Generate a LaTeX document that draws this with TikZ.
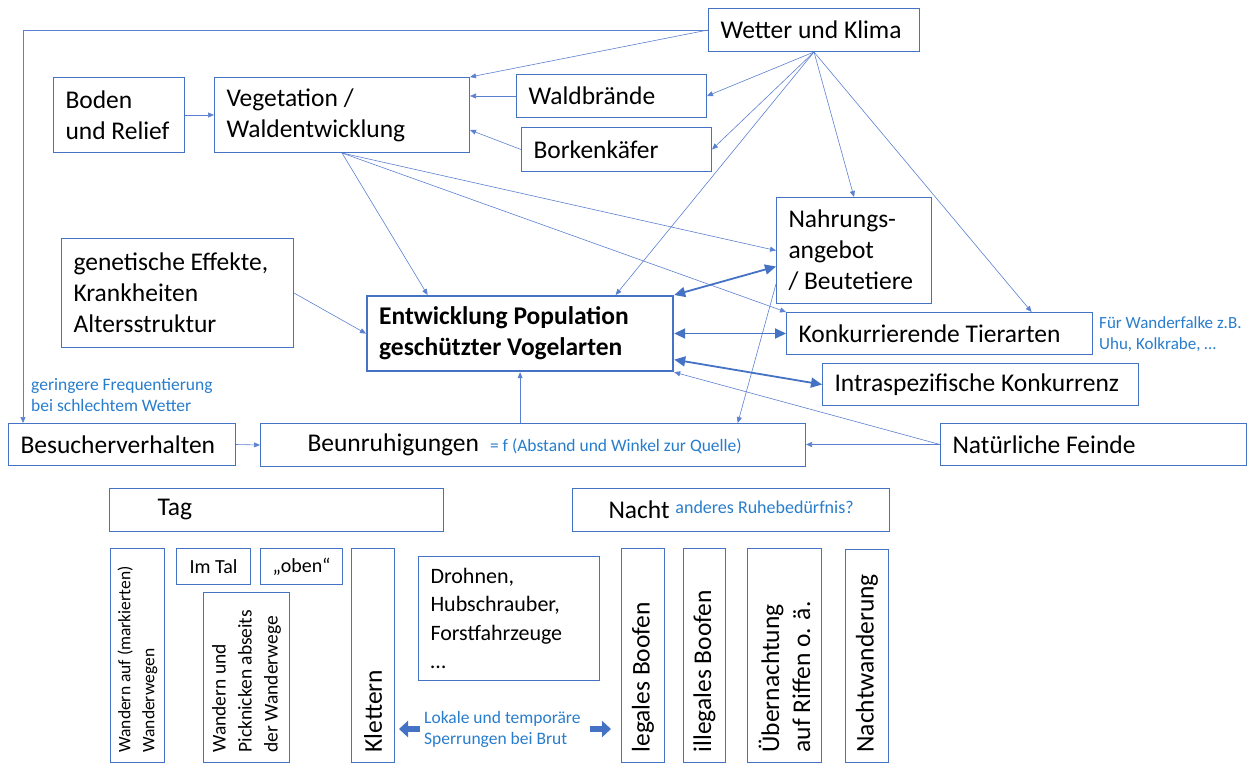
\documentclass[tikz,border=0pt]{standalone}
\usepackage{fontspec}
\setmainfont{Carlito}
\usetikzlibrary{arrows.meta, positioning, calc}

\definecolor{boxblue}{RGB}{68,114,196}
\definecolor{lineblue}{RGB}{92,128,208}
\definecolor{noteblue}{RGB}{40,125,205}

\newcommand{\mainsize}{\fontsize{25.5}{31}\selectfont}
\newcommand{\notesize}{\fontsize{17.5}{21}\selectfont}

\begin{document}
\begin{tikzpicture}[x=1pt, y=-1pt,
    box/.style 2 args={draw=boxblue, line width=1pt, fill=white,
                       anchor=north west, inner xsep=12pt, inner ysep=0pt,
                       minimum width=#1pt, minimum height=#2pt,
                       text width=#1pt-24pt, align=flush left, font=\mainsize},
    tbox/.style 2 args={draw=boxblue, line width=1pt, fill=white,
                        anchor=north west, inner sep=0pt,
                        minimum width=#1pt, minimum height=#2pt,
                        align=center, font=\fontsize{20}{24}\selectfont},
    vbox/.style 2 args={draw=boxblue, line width=1pt, fill=white,
                        anchor=north east, rotate=90, inner xsep=10pt, inner ysep=0pt,
                        minimum width=#1pt, minimum height=#2pt,
                        text width=#1pt-20pt, align=flush left, font=\mainsize},
    note/.style={text=noteblue, font=\notesize, align=left, inner sep=0pt, anchor=west},
    link/.style={draw=lineblue, line width=0.6pt, -{Triangle[length=6pt, width=5pt]}},
    both/.style={draw=boxblue, line width=1.8pt,
                 {Triangle[length=11pt, width=10pt]}-{Triangle[length=11pt, width=10pt]}},
    fat/.style={draw=boxblue, line width=6.5pt, -{Triangle[length=9pt, width=16pt]}}]
  \useasboundingbox (0,0) rectangle (1255,763);

  % upper part
  \node[box={211}{43}] (wetter) at (708,8) {Wetter und Klima};
  \node[box={131}{75}] (boden) at (53,77) {Boden\\und Relief};
  \node[box={255}{75}] (vegetation) at (214,77) {Vegetation /\\Waldentwicklung};
  \node[box={190}{43}] (waldbraende) at (516,74) {Waldbrände};
  \node[box={190}{44}] (borken) at (521,127) {Borkenkäfer};
  \node[box={155}{106}] (nahrung) at (776,197) {Nahrungs-\\angebot\\/ Beutetiere};
  \node[box={232}{109}] (genetik) at (61,238) {genetische Effekte,\\Krankheiten\\Altersstruktur};
  \node[box={306}{75}, line width=2.2pt, font=\mainsize\bfseries] (population) at (366,295)
       {Entwicklung Population\\geschützter Vogelarten};
  \node[box={306}{42}] (konkurrenz) at (786,312) {Konkurrierende Tierarten};
  \node[box={316}{42}] (intra) at (822,363) {Intraspezifische Konkurrenz};
  \node[box={227}{42}] (besucher) at (8,423) {Besucherverhalten};
  \node[box={545}{43}] (beunruhigung) at (260,423)
       {\hspace*{35pt}Beunruhigungen\hspace{11pt}{\color{noteblue}\notesize = f (Abstand und Winkel zur Quelle)}};
  \node[box={306}{42}] (feinde) at (940,423) {Natürliche Feinde};

  \node[note] (frequenz) at (31,395) {geringere Frequentierung\\bei schlechtem Wetter};
  \node[note, font=\fontsize{17}{21}\selectfont] (falke) at (1099,334) {Für Wanderfalke z.B.\\Uhu, Kolkrabe, …};

  % Tag / Nacht
  \node[box={334}{43}] (tag) at (109,488) {\hspace*{36pt}Tag};
  \node[box={317}{43}] (nacht) at (572,488)
       {\hspace*{24pt}Nacht \raisebox{5pt}{\color{noteblue}\fontsize{18}{21}\selectfont anderes Ruhebedürfnis?}};

  \node[vbox={214}{54}, font=\fontsize{17.5}{24}\selectfont] (markiert) at (110,548)
       {Wandern auf (markierten)\\Wanderwegen};
  \node[tbox={74}{36}] (tal) at (176,548) {Im Tal};
  \node[tbox={82}{36}] (oben) at (260,548) {„oben“};
  \node[vbox={170}{86}, font=\fontsize{19.5}{26}\selectfont] (abseits) at (203,592)
       {Wandern und\\Picknicken abseits\\der Wanderwege};
  \node[vbox={214}{43}] (klettern) at (351,548) {Klettern};
  \node[box={181}{124}, font=\fontsize{22}{28.5}\selectfont] (drohnen) at (418,556)
       {Drohnen,\\Hubschrauber,\\Forstfahrzeuge\\…};
  \node[vbox={214}{43}] (legal) at (621,548) {legales Boofen};
  \node[vbox={214}{42}] (illegal) at (683,548) {illegales Boofen};
  \node[vbox={214}{74}] (riffe) at (747,548) {Übernachtung\\auf Riffen o. ä.};
  \node[vbox={213}{43}] (nachtwanderung) at (845,549) {Nachtwanderung};
  \node[note] (sperrung) at (424,729) {Lokale und temporäre\\Sperrungen bei Brut};

  % connectors
  \draw[link] (wetter.west) -| ([xshift=15pt]besucher.north west);
  \draw[link] (wetter.west) -- (vegetation.north east);
  \draw[link] (boden.east) -- (vegetation.west);
  \draw[link] (waldbraende.west) -- (waldbraende.west -| vegetation.east);
  \draw[link] (borken.west) -- ([yshift=-15pt]vegetation.east);
  \foreach \target in {waldbraende.east, borken.east, nahrung.north}
    \draw[link] (wetter.south) -- (\target);
  \draw[link] (wetter.south) -- ($(konkurrenz.north west)!0.8!(konkurrenz.north east)$);
  \draw[link] (wetter.south) -- ($(population.north west)!0.81!(population.north east)$);
  \draw[link] (vegetation.south) -- ($(population.north west)!0.2!(population.north east)$);
  \draw[link] (vegetation.south) -- (nahrung.west);
  \draw[link] (vegetation.south) -- (konkurrenz.north west);
  \draw[link] (genetik.east) -- (population.west);
  \draw[link] ([yshift=20pt]nahrung.south west) -- ($(beunruhigung.north west)!0.875!(beunruhigung.north east)$);
  \draw[link] (besucher.east) -- (beunruhigung.west);
  \draw[link] (beunruhigung.north -| population.south) -- (population.south);
  \draw[link] (feinde.west) -- (feinde.west -| beunruhigung.east);
  \draw[link] (feinde.west) -- (population.south east);

  \draw[both] (population.north east) -- ([yshift=-16pt]nahrung.west);
  \draw[both] (population.east |- konkurrenz.west) -- (konkurrenz.west);
  \draw[both] ([yshift=-26pt]population.east) -- (intra.west);

  \draw[fat] ([xshift=-4pt]sperrung.west) -- ([xshift=4pt]sperrung.west -| klettern.south);
  \draw[fat] ([xshift=9pt]sperrung.east) -- ([xshift=-10pt]sperrung.east -| legal.north);
\end{tikzpicture}
\end{document}
